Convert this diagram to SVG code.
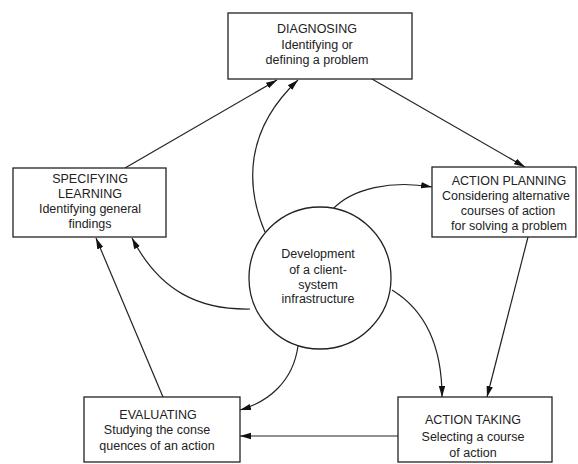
<svg xmlns="http://www.w3.org/2000/svg" width="578" height="464" viewBox="0 0 578 464">
<style>
.box{fill:#fff;stroke:#222;stroke-width:1.3}
.t{font-family:"Liberation Sans",Arial,sans-serif;font-size:12.5px;fill:#222;text-anchor:middle}
.c{fill:none;stroke:#222;stroke-width:1.2}
</style>
<defs>
<marker id="ah" markerUnits="userSpaceOnUse" markerWidth="12" markerHeight="8" refX="11" refY="4" orient="auto">
<path d="M0,0.8 L11,4 L0,7.2 z" fill="#111"/>
</marker>
</defs>
<rect width="578" height="464" fill="#fff"/>
<g id="connectors">
<line class="c" x1="125" y1="168" x2="277" y2="80" marker-end="url(#ah)"/>
<path class="c" d="M265,232 C245,185 245,130 298,80" marker-end="url(#ah)"/>
<line class="c" x1="372" y1="79" x2="525" y2="167" marker-end="url(#ah)"/>
<path class="c" d="M332,210 C352,188 392,180 432,187" marker-end="url(#ah)"/>
<line class="c" x1="528" y1="237" x2="487" y2="397" marker-end="url(#ah)"/>
<path class="c" d="M392,290 C428,312 442,350 442,397" marker-end="url(#ah)"/>
<line class="c" x1="398" y1="436" x2="240" y2="436" marker-end="url(#ah)"/>
<path class="c" d="M298,346 C293,382 268,402 240,410" marker-end="url(#ah)"/>
<line class="c" x1="163" y1="397" x2="96" y2="238" marker-end="url(#ah)"/>
<path class="c" d="M250,309 C200,310 160,292 132,238" marker-end="url(#ah)"/>
</g>
<g id="diagnosing">
<rect class="box" x="228" y="13" width="184" height="66"/>
<text class="t" x="317" y="33">DIAGNOSING</text>
<text class="t" x="317" y="49">Identifying or</text>
<text class="t" x="317" y="64">defining a problem</text>
</g>
<g id="specifying">
<rect class="box" x="13" y="168" width="153" height="69"/>
<text class="t" x="90" y="183">SPECIFYING</text>
<text class="t" x="90" y="198">LEARNING</text>
<text class="t" x="90" y="213">Identifying general</text>
<text class="t" x="90" y="228">findings</text>
</g>
<g id="planning">
<rect class="box" x="432" y="167" width="144" height="70"/>
<text class="t" x="509" y="185">ACTION PLANNING</text>
<text class="t" x="506" y="200">Considering alternative</text>
<text class="t" x="508" y="215">courses of action</text>
<text class="t" x="509" y="230">for solving a problem</text>
</g>
<g id="center">
<circle class="box" cx="320" cy="278" r="71"/>
<text class="t" x="318" y="258">Development</text>
<text class="t" x="318" y="274">of a client-</text>
<text class="t" x="318" y="289">system</text>
<text class="t" x="318" y="303">infrastructure</text>
</g>
<g id="evaluating">
<rect class="box" x="84" y="397" width="156" height="65"/>
<text class="t" x="158" y="419">EVALUATING</text>
<text class="t" x="157" y="434">Studying the conse</text>
<text class="t" x="157" y="450">quences of an action</text>
</g>
<g id="taking">
<rect class="box" x="398" y="397" width="154" height="65"/>
<text class="t" x="473" y="424">ACTION TAKING</text>
<text class="t" x="473" y="441">Selecting a course</text>
<text class="t" x="473" y="457">of action</text>
</g>
</svg>
